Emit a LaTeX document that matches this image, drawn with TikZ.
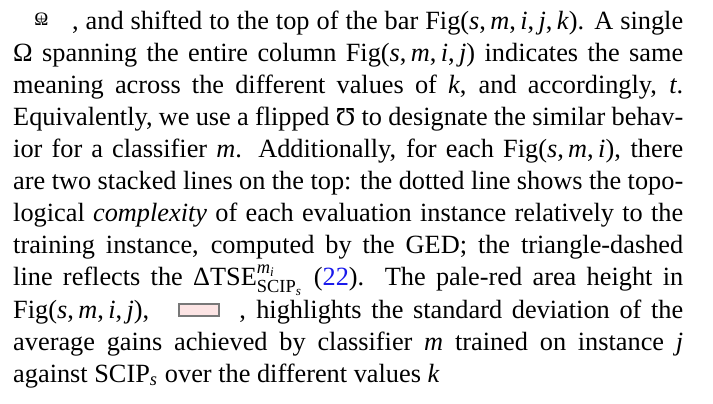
\documentclass[tikz,border=0pt]{standalone}
\usepackage{fontspec}
\setmainfont{Liberation Serif}
\usepackage{amsmath}
\usepackage{graphicx}
\definecolor{palered}{RGB}{252,228,228}
\definecolor{boxgray}{RGB}{120,120,120}
\definecolor{linkblue}{RGB}{25,25,235}
\newlength\tw \setlength\tw{254.6pt}
\newcommand\vi[1]{\textit{#1}}
\newcommand\cm{,\,}
\newcommand\flipom{\rotatebox[origin=c]{180}{Ω}}
\newcommand\omplus{\raisebox{1.4pt}{\scalebox{0.72}{\ooalign{Ω\cr\hidewidth\raisebox{.08em}{\scalebox{.8}{+}}\hidewidth\cr}}}}
\newcommand\redbox{{\setlength\fboxsep{0pt}\setlength\fboxrule{0.7pt}\raisebox{1.2pt}{\fcolorbox{boxgray}{palered}{\rule{0pt}{4.0pt}\hspace{14.5pt}}}}}
\hbadness=10000
\begin{document}
\begin{tikzpicture}[x=0.38pt,y=-0.38pt,
  txt/.style={anchor=base west,inner sep=0pt,font=\fontsize{10}{12}\selectfont}]
\useasboundingbox (0,0) rectangle (713,403);
\node[txt] (l1)  at (12.7,29.5)  {\hbox to \tw{\hspace*{8pt}\omplus\hspace*{9pt}, and shifted to the top of the bar Fig(\vi{s}\cm\vi{m}\cm\vi{i}\cm\vi{j}\cm\vi{k}). A single}};
\node[txt] (l2)  at (12.7,61.5)  {\hbox to \tw{Ω spanning the entire column Fig(\vi{s}\cm\vi{m}\cm\vi{i}\cm\vi{j}) indicates the same}};
\node[txt] (l3)  at (12.7,93.5)  {\hbox to \tw{meaning across the different values of \vi{k}, and accordingly, \vi{t}.}};
\node[txt] (l4)  at (12.7,125.5) {\hbox to \tw{Equivalently, we use a flipped \flipom\ to designate the similar behav-}};
\node[txt] (l5)  at (12.7,157.5) {\hbox to \tw{ior for a classifier \vi{m}. Additionally, for each Fig(\vi{s}\cm\vi{m}\cm\vi{i}), there}};
\node[txt] (l6)  at (12.7,189.5) {\hbox to \tw{are two stacked lines on the top: the dotted line shows the topo-}};
\node[txt] (l7)  at (12.7,221.5) {\hbox to \tw{logical \vi{complexity} of each evaluation instance relatively to the}};
\node[txt] (l8)  at (12.7,253.5) {\hbox to \tw{training instance, computed by the GED; the triangle-dashed}};
\node[txt] (l9)  at (12.7,285.5) {\hbox to \tw{line reflects the $\text{ΔTSE}^{\text{\vi{m}}_{\text{\vi{i}}}}_{\text{SCIP}_{\text{\vi{s}}}}$ (\textcolor{linkblue}{22}).\ \ The pale-red area height in}};
\node[txt] (l10) at (12.7,318.5) {\hbox to \tw{Fig(\vi{s}\cm\vi{m}\cm\vi{i}\cm\vi{j}),\ \ \ \redbox\ \ , highlights the standard deviation of the}};
\node[txt] (l11) at (12.7,350.5) {\hbox to \tw{average gains achieved by classifier \vi{m} trained on instance \vi{j}}};
\node[txt] (l12) at (12.7,382.0) {against SCIP$_{\text{\vi{s}}}$ over the different values \vi{k}};
\end{tikzpicture}
\end{document}
